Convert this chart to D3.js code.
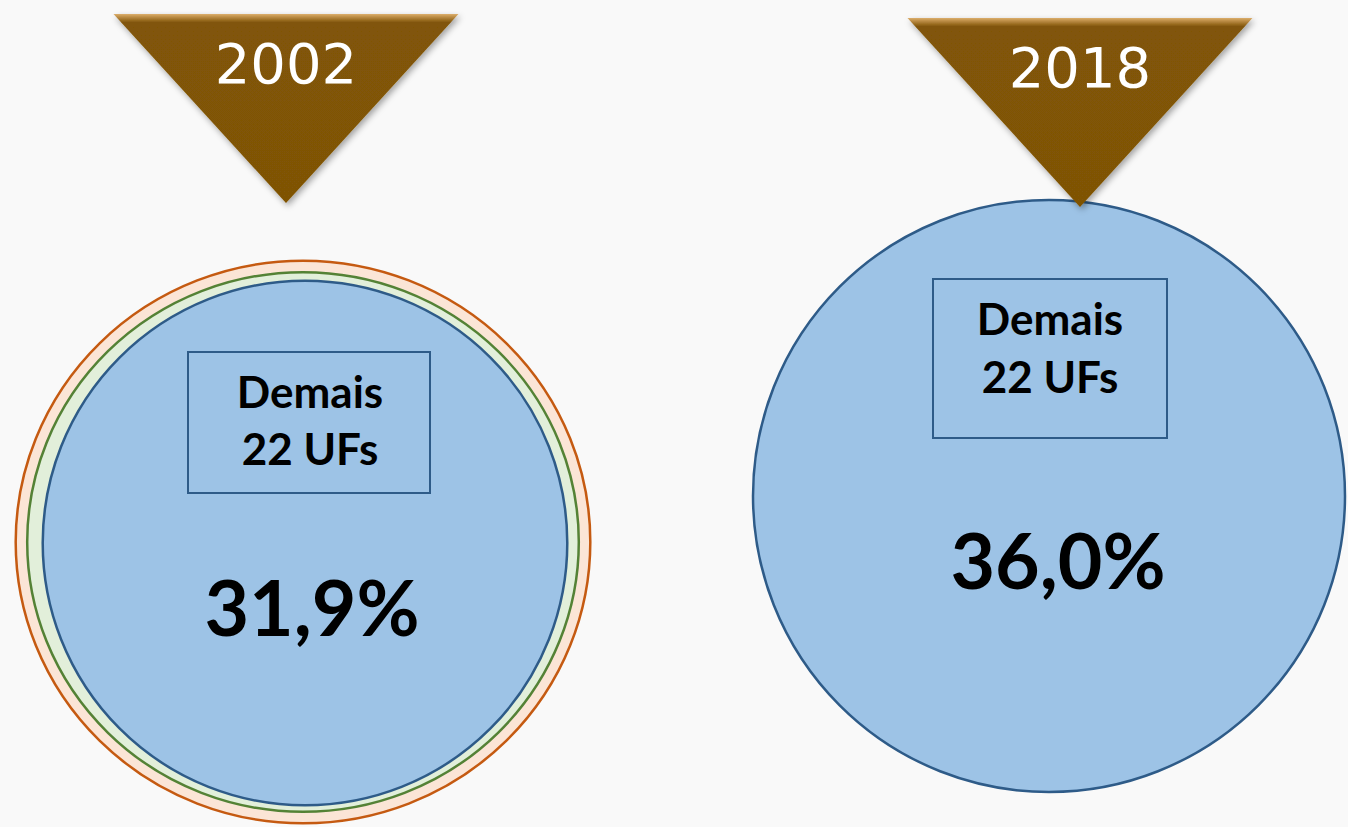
<!DOCTYPE html>
<html>
<head>
<meta charset="utf-8">
<script src="https://cdn.jsdelivr.net/npm/d3@7"></script>
<style>
  html, body { margin: 0; padding: 0; background: #f9f9f9; }
  svg { display: block; }
</style>
</head>
<body>
<div id="chart"></div>
<script>
// data
const years = ["2002", "2018"]
const shares = [31.9, 36.0]
const boxLabel = ["Demais", "22 UFs"]
// outer rings that only show up in 2002 (estimated share, cumulative)
const rings2002 = [34.7, 33.3]

var width = 1348, height = 827

// layout per year (centres of circles, triangles, boxes)
const layout = {
  "2002": {cx: 303, cy: 543, tri: 286, triTop: 14, box: [188, 352, 242, 141], lab: [310, 408, 465]},
  "2018": {cx: 1049, cy: 496, tri: 1080, triTop: 18, box: [933, 279, 234, 159], lab: [1050, 335, 393]}
}

const svg = d3.select("#chart")
    .append("svg")
    .attr("width", width)
    .attr("height", height)
    .style("background-color", "#f9f9f9")

const defs = svg.append("defs")

const grad = defs.append("linearGradient")
    .attr("id", "triGrad")
    .attr("x1", 0).attr("y1", 0).attr("x2", 0).attr("y2", 1)
grad.append("stop").attr("offset", "0%").attr("stop-color", "#dcae6c")
grad.append("stop").attr("offset", "2%").attr("stop-color", "#b3843c")
grad.append("stop").attr("offset", "4.5%").attr("stop-color", "#815507")
grad.append("stop").attr("offset", "100%").attr("stop-color", "#7f5306")

const shadow = defs.append("filter")
    .attr("id", "shadow")
    .attr("x", "-20%").attr("y", "-20%")
    .attr("width", "140%").attr("height", "140%")
shadow.append("feDropShadow")
    .attr("dx", 2).attr("dy", 3)
    .attr("stdDeviation", 3)
    .attr("flood-color", "#000")
    .attr("flood-opacity", 0.35)

// radius is linear in the share
let r = d3.scaleLinear().domain([0, 36]).range([0, 296])

const data = years.map((y, i) => ({year: y, value: shares[i]}))

// ------- rings (2002 only) -------
const ringColors = [
  {fill: "#fbe5d6", stroke: "#c55a11"},
  {fill: "#e2efda", stroke: "#548235"}
]

svg.selectAll("ellipse.ring")
    .data(rings2002)
    .enter()
    .append("ellipse")
        .attr("class", "ring")
        .attr("cx", layout["2002"].cx)
        .attr("cy", layout["2002"].cy - 1)
        .attr("rx", d => r(d) + 2)
        .attr("ry", d => r(d) - 4)
        .attr("fill", (d, i) => ringColors[i].fill)
        .attr("stroke", (d, i) => ringColors[i].stroke)
        .attr("stroke-width", 2.5)

// ------- main circles -------
svg.selectAll("circle.main")
    .data(data)
    .enter()
    .append("circle")
        .attr("class", "main")
        .attr("cx", d => layout[d.year].cx + (d.year == "2002" ? 2 : 0))
        .attr("cy", d => layout[d.year].cy)
        .attr("r", d => r(d.value))
        .attr("fill", "#9dc3e6")
        .attr("stroke", "#2e5b88")
        .attr("stroke-width", 2.5)

// ------- boxes -------
svg.selectAll("rect.box")
    .data(data)
    .enter()
    .append("rect")
        .attr("class", "box")
        .attr("x", d => layout[d.year].box[0])
        .attr("y", d => layout[d.year].box[1])
        .attr("width", d => layout[d.year].box[2])
        .attr("height", d => layout[d.year].box[3])
        .attr("fill", "none")
        .attr("stroke", "#2e5b88")
        .attr("stroke-width", 2)

data.forEach(d => {
    let L = layout[d.year]
    boxLabel.forEach((t, j) => {
        svg.append("text")
            .attr("x", L.lab[0])
            .attr("y", L.lab[1 + j])
            .attr("text-anchor", "middle")
            .style("font-family", "Lato, 'Open Sans', sans-serif")
            .style("font-weight", "bold")
            .style("font-size", "44px")
            .style("fill", "#000")
            .text(t)
    })
})

// percent labels
svg.selectAll("text.pct")
    .data(data)
    .enter()
    .append("text")
        .attr("class", "pct")
        .attr("x", d => layout[d.year].cx + (d.year == "2002" ? 9 : 9))
        .attr("y", d => layout[d.year].cy + 93)
        .attr("text-anchor", "middle")
        .style("font-family", "Lato, 'Open Sans', sans-serif")
        .style("font-weight", "bold")
        .style("font-size", "77px")
        .style("fill", "#000")
        .text(d => d3.format(".1f")(d.value).replace(".", ",") + "%")

// ------- year triangles -------
let triW = 345, triH = 189

svg.selectAll("path.tri")
    .data(data)
    .enter()
    .append("path")
        .attr("class", "tri")
        .attr("d", d => {
            let x = layout[d.year].tri, y = layout[d.year].triTop
            return "M" + (x - triW / 2) + "," + y + "L" + (x + triW / 2) + "," + y + "L" + x + "," + (y + triH) + "Z"
        })
        .attr("fill", "url(#triGrad)")
        .attr("filter", "url(#shadow)")

svg.selectAll("text.year")
    .data(data)
    .enter()
    .append("text")
        .attr("class", "year")
        .attr("x", d => layout[d.year].tri)
        .attr("y", d => layout[d.year].triTop + 69)
        .attr("text-anchor", "middle")
        .style("font-family", "'DejaVu Sans', Verdana, sans-serif")
        .style("font-size", "56px")
        .style("fill", "#fff")
        .text(d => d.year)
</script>
</body>
</html>
